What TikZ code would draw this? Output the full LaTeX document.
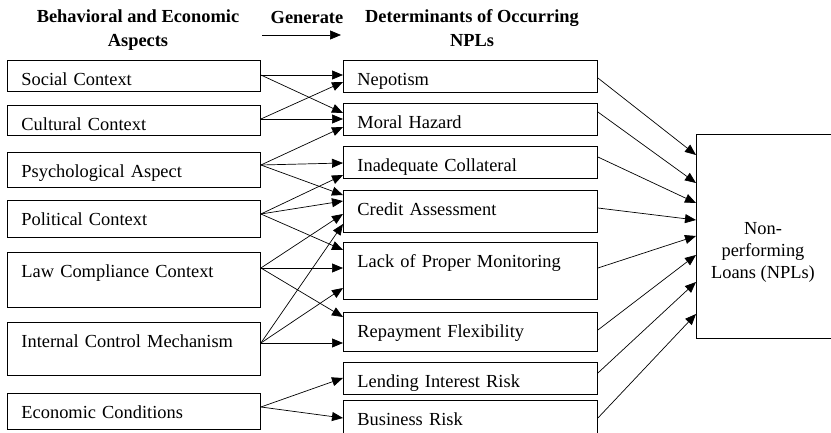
\documentclass[tikz,border=0pt]{standalone}
\usepackage{fontspec}
\setmainfont{Liberation Serif}
\usetikzlibrary{arrows.meta,calc}
\begin{document}
\begin{tikzpicture}[x=1pt,y=-1pt,
  font=\fontsize{18.4}{22}\selectfont,
  lbox/.style={draw, line width=0.9pt, anchor=north west, inner xsep=14pt, inner ysep=0pt,
    text height=25pt, text width=225pt, align=left},
  mbox/.style={draw, line width=0.9pt, anchor=north west, inner xsep=14pt, inner ysep=0pt,
    text height=25pt, text width=226pt, align=left},
  head/.style={font=\fontsize{18.4}{23.5}\selectfont\bfseries, align=center, inner sep=0pt},
  arr/.style={-{Triangle[length=11pt,width=9pt]}, line width=0.7pt},
]
\useasboundingbox (0,0) rectangle (831,433);
\clip (0,0) rectangle (831,433);

% headers
\node[head] (h1) at (138,30) {Behavioral and Economic\\Aspects};
\node[head] (h2) at (307,18) {Generate};
\node[head] (h3) at (472,28) {Determinants of Occurring\\NPLs};
\coordinate (g1) at (262,35);
\coordinate (g2) at (341,35);
\draw[arr] (g1) -- (g2);

% left boxes
\node[lbox, text depth=6pt]  (social)    at (7,60)  {Social Context};
\node[lbox, text depth=5pt]  (cultural)  at (7,105) {Cultural Context};
\node[lbox, text depth=10pt] (psych)     at (7,152) {Psychological Aspect};
\node[lbox, text depth=12pt] (political) at (7,200) {Political Context};
\node[lbox, text depth=30pt] (law)       at (7,252) {Law Compliance Context};
\node[lbox, text depth=28pt] (internal)  at (7,322) {Internal Control Mechanism};
\node[lbox, text depth=11pt] (economic)  at (7,393) {Economic Conditions};

% middle boxes
\node[mbox, text depth=7pt]  (nep)    at (343,60)  {Nepotism};
\node[mbox, text depth=7pt]  (moral)  at (343,103) {Moral Hazard};
\node[mbox, text depth=7pt]  (inad)   at (343,146) {Inadequate Collateral};
\node[mbox, text depth=17pt] (credit) at (343,190) {Credit Assessment};
\node[mbox, text depth=32pt] (lack)   at (343,242) {Lack of Proper Monitoring};
\node[mbox, text depth=14pt] (repay)  at (343,312) {Repayment Flexibility};
\node[mbox, text depth=7pt]  (lend)   at (343,362) {Lending Interest Risk};
\node[mbox, text depth=15pt] (bus)    at (343,400) {Business Risk};

% outcome box
\node[draw, line width=0.9pt, anchor=north west, minimum width=137pt, minimum height=204pt, inner sep=0pt] (npl) at (696,134) {};
\node[align=center, inner sep=0pt] (npltext) at (763,252) {Non-\\performing\\Loans (NPLs)};

% start points on left boxes
\coordinate (socR) at ($(social.north east)+(0,15)$);
\coordinate (culR) at ($(cultural.north east)+(0,14)$);
\coordinate (psyR) at ($(psych.north east)+(0,13)$);
\coordinate (polR) at ($(political.north east)+(0,14)$);
\coordinate (lawR) at ($(law.north east)+(0,16)$);
\coordinate (intR) at ($(internal.north east)+(0,21)$);
\coordinate (ecoR) at ($(economic.north east)+(0,14)$);

% left -> middle
\draw[arr] (socR) -- ($(nep.north west)+(0,15)$);
\draw[arr] (socR) -- ($(moral.north west)+(0,10)$);
\draw[arr] (culR) -- ($(nep.north west)+(0,22)$);
\draw[arr] (culR) -- ($(moral.north west)+(0,16)$);
\draw[arr] (psyR) -- ($(moral.north west)+(0,24)$);
\draw[arr] (psyR) -- ($(inad.north west)+(0,17)$);
\draw[arr] (psyR) -- ($(credit.north west)+(0,5)$);
\draw[arr] (polR) -- ($(inad.north west)+(0,29)$);
\draw[arr] (polR) -- ($(credit.north west)+(0,11)$);
\draw[arr] (polR) -- ($(lack.north west)+(0,8)$);
\draw[arr] (lawR) -- ($(credit.north west)+(0,24)$);
\draw[arr] (lawR) -- ($(lack.north west)+(0,26)$);
\draw[arr] (lawR) -- ($(repay.north west)+(0,5)$);
\draw[arr] (intR) -- ($(credit.north west)+(0,34)$);
\draw[arr] (intR) -- ($(lack.north west)+(0,46)$);
\draw[arr] (intR) -- ($(repay.north west)+(0,31)$);
\draw[arr] (ecoR) -- ($(lend.north west)+(0,16)$);
\draw[arr] (ecoR) -- ($(bus.north west)+(0,18)$);

% middle -> outcome
\draw[arr] ($(nep.north east)+(0,18)$)    -- ($(npl.north west)+(0,21)$);
\draw[arr] ($(moral.north east)+(0,9)$)   -- ($(npl.north west)+(0,49)$);
\draw[arr] ($(inad.north east)+(0,11)$)   -- ($(npl.north west)+(0,69)$);
\draw[arr] ($(credit.north east)+(0,18)$) -- ($(npl.north west)+(0,86)$);
\draw[arr] ($(lack.north east)+(0,26)$)   -- ($(npl.north west)+(0,102)$);
\draw[arr] ($(repay.north east)+(0,18)$)  -- ($(npl.north west)+(0,121)$);
\draw[arr] ($(lend.north east)+(0,11)$)   -- ($(npl.north west)+(0,148)$);
\draw[arr] ($(bus.north east)+(0,18)$)    -- ($(npl.north west)+(0,180)$);
\end{tikzpicture}
\end{document}
